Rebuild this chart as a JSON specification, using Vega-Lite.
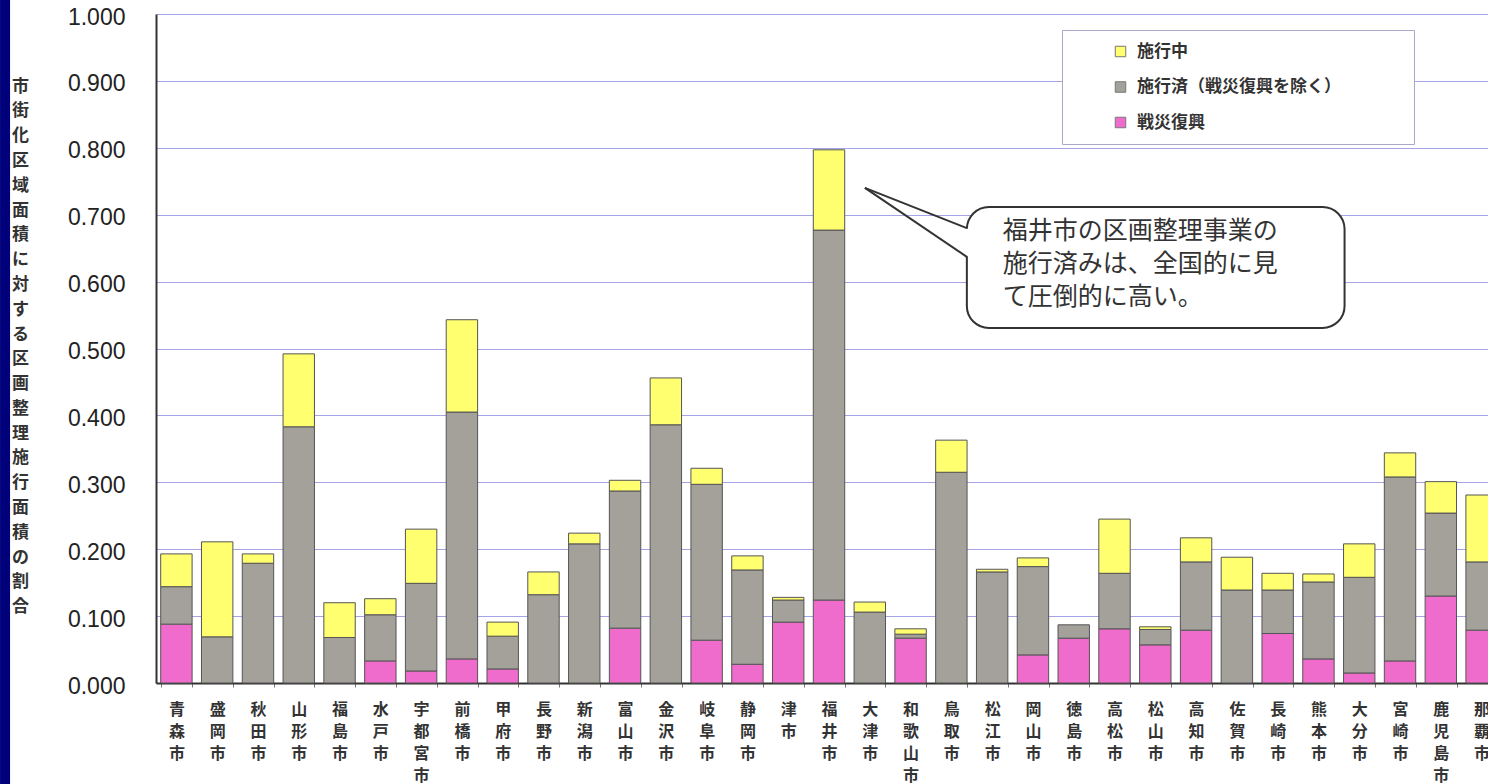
{
  "$schema": "https://vega.github.io/schema/vega-lite/v6.json",
  "autosize": {"type": "none"},
  "width": 1332,
  "height": 669,
  "padding": {"left": 156, "top": 14, "right": 0, "bottom": 101},
  "background": "white",
  "config": {"view": {"stroke": null}, "font": "Noto Sans CJK JP"},
  "datasets": {
    "bars": [
      {"city": "青森市", "type": "戦災復興", "value": 0.088},
      {"city": "青森市", "type": "施行済（戦災復興を除く）", "value": 0.056},
      {"city": "青森市", "type": "施行中", "value": 0.049},
      {"city": "盛岡市", "type": "施行済（戦災復興を除く）", "value": 0.069},
      {"city": "盛岡市", "type": "施行中", "value": 0.142},
      {"city": "秋田市", "type": "施行済（戦災復興を除く）", "value": 0.179},
      {"city": "秋田市", "type": "施行中", "value": 0.014},
      {"city": "山形市", "type": "施行済（戦災復興を除く）", "value": 0.383},
      {"city": "山形市", "type": "施行中", "value": 0.109},
      {"city": "福島市", "type": "施行済（戦災復興を除く）", "value": 0.068},
      {"city": "福島市", "type": "施行中", "value": 0.052},
      {"city": "水戸市", "type": "戦災復興", "value": 0.033},
      {"city": "水戸市", "type": "施行済（戦災復興を除く）", "value": 0.069},
      {"city": "水戸市", "type": "施行中", "value": 0.024},
      {"city": "宇都宮市", "type": "戦災復興", "value": 0.018},
      {"city": "宇都宮市", "type": "施行済（戦災復興を除く）", "value": 0.131},
      {"city": "宇都宮市", "type": "施行中", "value": 0.081},
      {"city": "前橋市", "type": "戦災復興", "value": 0.036},
      {"city": "前橋市", "type": "施行済（戦災復興を除く）", "value": 0.369},
      {"city": "前橋市", "type": "施行中", "value": 0.138},
      {"city": "甲府市", "type": "戦災復興", "value": 0.021},
      {"city": "甲府市", "type": "施行済（戦災復興を除く）", "value": 0.049},
      {"city": "甲府市", "type": "施行中", "value": 0.021},
      {"city": "長野市", "type": "施行済（戦災復興を除く）", "value": 0.132},
      {"city": "長野市", "type": "施行中", "value": 0.034},
      {"city": "新潟市", "type": "施行済（戦災復興を除く）", "value": 0.208},
      {"city": "新潟市", "type": "施行中", "value": 0.016},
      {"city": "富山市", "type": "戦災復興", "value": 0.082},
      {"city": "富山市", "type": "施行済（戦災復興を除く）", "value": 0.205},
      {"city": "富山市", "type": "施行中", "value": 0.016},
      {"city": "金沢市", "type": "施行済（戦災復興を除く）", "value": 0.386},
      {"city": "金沢市", "type": "施行中", "value": 0.070},
      {"city": "岐阜市", "type": "戦災復興", "value": 0.064},
      {"city": "岐阜市", "type": "施行済（戦災復興を除く）", "value": 0.233},
      {"city": "岐阜市", "type": "施行中", "value": 0.024},
      {"city": "静岡市", "type": "戦災復興", "value": 0.028},
      {"city": "静岡市", "type": "施行済（戦災復興を除く）", "value": 0.141},
      {"city": "静岡市", "type": "施行中", "value": 0.021},
      {"city": "津市", "type": "戦災復興", "value": 0.091},
      {"city": "津市", "type": "施行済（戦災復興を除く）", "value": 0.033},
      {"city": "津市", "type": "施行中", "value": 0.004},
      {"city": "福井市", "type": "戦災復興", "value": 0.124},
      {"city": "福井市", "type": "施行済（戦災復興を除く）", "value": 0.553},
      {"city": "福井市", "type": "施行中", "value": 0.120},
      {"city": "大津市", "type": "施行済（戦災復興を除く）", "value": 0.106},
      {"city": "大津市", "type": "施行中", "value": 0.015},
      {"city": "和歌山市", "type": "戦災復興", "value": 0.067},
      {"city": "和歌山市", "type": "施行済（戦災復興を除く）", "value": 0.006},
      {"city": "和歌山市", "type": "施行中", "value": 0.008},
      {"city": "鳥取市", "type": "施行済（戦災復興を除く）", "value": 0.315},
      {"city": "鳥取市", "type": "施行中", "value": 0.048},
      {"city": "松江市", "type": "施行済（戦災復興を除く）", "value": 0.166},
      {"city": "松江市", "type": "施行中", "value": 0.004},
      {"city": "岡山市", "type": "戦災復興", "value": 0.042},
      {"city": "岡山市", "type": "施行済（戦災復興を除く）", "value": 0.132},
      {"city": "岡山市", "type": "施行中", "value": 0.013},
      {"city": "徳島市", "type": "戦災復興", "value": 0.067},
      {"city": "徳島市", "type": "施行済（戦災復興を除く）", "value": 0.020},
      {"city": "高松市", "type": "戦災復興", "value": 0.081},
      {"city": "高松市", "type": "施行済（戦災復興を除く）", "value": 0.083},
      {"city": "高松市", "type": "施行中", "value": 0.081},
      {"city": "松山市", "type": "戦災復興", "value": 0.057},
      {"city": "松山市", "type": "施行済（戦災復興を除く）", "value": 0.023},
      {"city": "松山市", "type": "施行中", "value": 0.004},
      {"city": "高知市", "type": "戦災復興", "value": 0.079},
      {"city": "高知市", "type": "施行済（戦災復興を除く）", "value": 0.102},
      {"city": "高知市", "type": "施行中", "value": 0.036},
      {"city": "佐賀市", "type": "施行済（戦災復興を除く）", "value": 0.139},
      {"city": "佐賀市", "type": "施行中", "value": 0.049},
      {"city": "長崎市", "type": "戦災復興", "value": 0.074},
      {"city": "長崎市", "type": "施行済（戦災復興を除く）", "value": 0.065},
      {"city": "長崎市", "type": "施行中", "value": 0.025},
      {"city": "熊本市", "type": "戦災復興", "value": 0.036},
      {"city": "熊本市", "type": "施行済（戦災復興を除く）", "value": 0.115},
      {"city": "熊本市", "type": "施行中", "value": 0.012},
      {"city": "大分市", "type": "戦災復興", "value": 0.015},
      {"city": "大分市", "type": "施行済（戦災復興を除く）", "value": 0.143},
      {"city": "大分市", "type": "施行中", "value": 0.050},
      {"city": "宮崎市", "type": "戦災復興", "value": 0.033},
      {"city": "宮崎市", "type": "施行済（戦災復興を除く）", "value": 0.275},
      {"city": "宮崎市", "type": "施行中", "value": 0.036},
      {"city": "鹿児島市", "type": "戦災復興", "value": 0.130},
      {"city": "鹿児島市", "type": "施行済（戦災復興を除く）", "value": 0.124},
      {"city": "鹿児島市", "type": "施行中", "value": 0.047},
      {"city": "那覇市", "type": "戦災復興", "value": 0.079},
      {"city": "那覇市", "type": "施行済（戦災復興を除く）", "value": 0.102},
      {"city": "那覇市", "type": "施行中", "value": 0.100}
    ]
  },
  "layer": [
    {
      "data": {"name": "bars"},
      "transform": [
        {"calculate": "indexof(['戦災復興','施行済（戦災復興を除く）','施行中'], datum.type)", "as": "k"}
      ],
      "mark": {"type": "bar", "stroke": "#555555", "strokeWidth": 1},
      "encoding": {
        "x": {
          "field": "city",
          "type": "nominal",
          "sort": null,
          "scale": {
            "domain": ["青森市","盛岡市","秋田市","山形市","福島市","水戸市","宇都宮市","前橋市","甲府市","長野市","新潟市","富山市","金沢市","岐阜市","静岡市","津市","福井市","大津市","和歌山市","鳥取市","松江市","岡山市","徳島市","高松市","松山市","高知市","佐賀市","長崎市","熊本市","大分市","宮崎市","鹿児島市","那覇市"],
            "range": [0, 1346],
            "paddingInner": 0.23,
            "paddingOuter": 0.115
          },
          "axis": {
            "title": null,
            "labelAngle": 0,
            "labelExpr": "split(datum.label, '')",
            "labelBaseline": "top",
            "labelAlign": "center",
            "labelLineHeight": 22,
            "labelPadding": 14,
            "labelFontSize": 16,
            "labelFontWeight": "bold",
            "labelColor": "#333333",
            "labelFont": "Noto Sans CJK JP",
            "labelOverlap": false,
            "domainColor": "#333333",
            "domainWidth": 2,
            "ticks": true,
            "tickBand": "extent",
            "tickSize": 4,
            "tickColor": "#777777"
          }
        },
        "y": {
          "aggregate": "sum",
          "field": "value",
          "type": "quantitative",
          "stack": "zero",
          "scale": {"domain": [0, 1], "nice": false},
          "axis": {
            "values": [0, 0.1, 0.2, 0.3, 0.4, 0.5, 0.6, 0.7, 0.8, 0.9, 1.0],
            "format": ".3f",
            "grid": true,
            "gridColor": "#a4a4e6",
            "gridWidth": 1.2,
            "ticks": false,
            "tickSize": 0,
            "labelPadding": 31,
            "labelOffset": 3,
            "labelFont": "Liberation Sans",
            "labelFontSize": 23,
            "labelColor": "#222222",
            "domainColor": "#333333",
            "domainWidth": 2,
            "title": ["市","街","化","区","域","面","積","に","対","す","る","区","画","整","理","施","行","面","積","の","割","合"],
            "titleAngle": 0,
            "titleAlign": "center",
            "titleBaseline": "top",
            "titleX": -136,
            "titleY": 64,
            "titleLineHeight": 24.8,
            "titleFont": "Noto Sans CJK JP",
            "titleFontSize": 17,
            "titleFontWeight": "bold",
            "titleColor": "#333333"
          }
        },
        "color": {
          "field": "type",
          "type": "nominal",
          "scale": {
            "domain": ["施行中", "施行済（戦災復興を除く）", "戦災復興"],
            "range": ["#ffff70", "#a3a19a", "#f06ccc"]
          },
          "legend": {
            "orient": "none",
            "legendX": 906,
            "legendY": 16,
            "title": null,
            "direction": "vertical",
            "fillColor": "white",
            "strokeColor": "#a8a8c8",
            "padding": 13,
            "symbolType": "square",
            "symbolSize": 110,
            "symbolStrokeColor": "#777777",
            "symbolStrokeWidth": 1,
            "symbolOffset": 37,
            "labelOffset": 8,
            "labelLimit": 500,
            "labelFont": "Noto Sans CJK JP",
            "labelFontSize": 17,
            "labelFontWeight": "bold",
            "labelColor": "#333333",
            "labelExpr": "datum.label + '\u2800\u2800\u2800\u2800\u2800'",
            "rowPadding": 17.5
          }
        },
        "order": {"field": "k", "type": "quantitative"}
      }
    },
    {
      "data": {"values": [{}]},
      "layer": [
        {
          "mark": {"type": "rect", "fill": "#00007a"},
          "encoding": {
            "x": {"datum": -3.824, "type": "quantitative", "scale": {"domain": [0, 33], "range": [0, 1346], "nice": false, "zero": false}, "axis": null},
            "x2": {"datum": -3.578},
            "y": {"datum": -0.2, "type": "quantitative", "scale": {"domain": [0, 1], "nice": false}},
            "y2": {"datum": 1.05}
          }
        },
        {
          "mark": {"type": "rect", "fill": "white", "stroke": "#333333", "strokeWidth": 2, "cornerRadius": 22},
          "encoding": {
            "x": {"datum": 19.88, "type": "quantitative", "scale": {"domain": [0, 33], "range": [0, 1346], "nice": false, "zero": false}, "axis": null},
            "x2": {"datum": 29.14},
            "y": {"datum": 0.7115, "type": "quantitative", "scale": {"domain": [0, 1], "nice": false}},
            "y2": {"datum": 0.5306}
          }
        },
        {
          "mark": {"type": "rule", "stroke": "white", "strokeWidth": 4},
          "encoding": {
            "x": {"datum": 19.88, "type": "quantitative", "scale": {"domain": [0, 33], "range": [0, 1346], "nice": false, "zero": false}, "axis": null},
            "y": {"datum": 0.679, "type": "quantitative", "scale": {"domain": [0, 1], "nice": false}},
            "y2": {"datum": 0.638}
          }
        },
        {
          "mark": {"type": "rule", "stroke": "#333333", "strokeWidth": 2},
          "encoding": {
            "x": {"datum": 17.38, "type": "quantitative", "scale": {"domain": [0, 33], "range": [0, 1346], "nice": false, "zero": false}, "axis": null},
            "x2": {"datum": 19.88},
            "y": {"datum": 0.740, "type": "quantitative", "scale": {"domain": [0, 1], "nice": false}},
            "y2": {"datum": 0.680}
          }
        },
        {
          "mark": {"type": "rule", "stroke": "#333333", "strokeWidth": 2},
          "encoding": {
            "x": {"datum": 17.38, "type": "quantitative", "scale": {"domain": [0, 33], "range": [0, 1346], "nice": false, "zero": false}, "axis": null},
            "x2": {"datum": 19.88},
            "y": {"datum": 0.740, "type": "quantitative", "scale": {"domain": [0, 1], "nice": false}},
            "y2": {"datum": 0.637}
          }
        },
        {
          "mark": {
            "type": "text",
            "text": ["福井市の区画整理事業の", "施行済みは、全国的に見", "て圧倒的に高い。"],
            "align": "left",
            "baseline": "top",
            "lineHeight": 33,
            "font": "Noto Sans CJK JP",
            "fontSize": 25,
            "color": "#333333"
          },
          "encoding": {
            "x": {"datum": 20.76, "type": "quantitative", "scale": {"domain": [0, 33], "range": [0, 1346], "nice": false, "zero": false}, "axis": null},
            "y": {"datum": 0.6936, "type": "quantitative", "scale": {"domain": [0, 1], "nice": false}}
          }
        }
      ]
    }
  ],
  "resolve": {"scale": {"x": "independent"}}
}
